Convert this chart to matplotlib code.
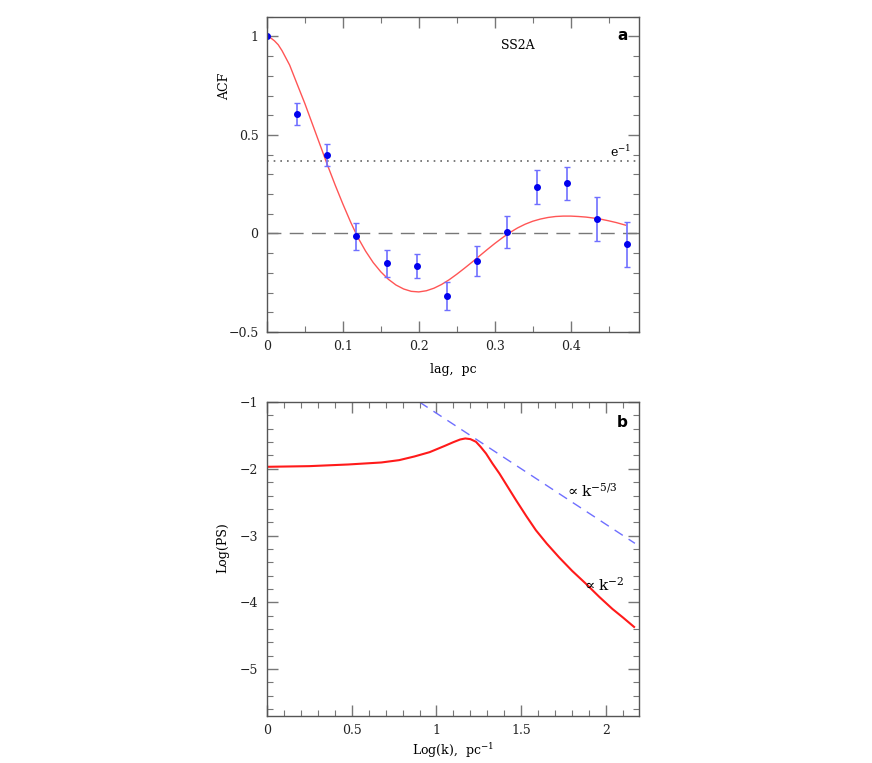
import matplotlib
matplotlib.use("Agg")
import matplotlib.pyplot as plt
from matplotlib.ticker import MultipleLocator, FixedLocator

# ---------------- data: panel a ----------------
lag = [0.0, 0.0395, 0.079, 0.118, 0.158, 0.197, 0.237, 0.276, 0.316, 0.355, 0.395, 0.434, 0.474]
acf = [1.0, 0.605, 0.398, -0.015, -0.152, -0.164, -0.320, -0.140, 0.007, 0.235, 0.254, 0.074, -0.056]
acf_err = [0.0, 0.055, 0.057, 0.070, 0.070, 0.061, 0.071, 0.076, 0.080, 0.085, 0.085, 0.113, 0.114]

fit_lag = [0.0, 0.005, 0.01, 0.015, 0.02, 0.03, 0.04, 0.05, 0.06, 0.07, 0.08, 0.09, 0.10, 0.11, 0.12,
           0.13, 0.14, 0.15, 0.16, 0.17, 0.18, 0.19, 0.20, 0.21, 0.22, 0.23, 0.24, 0.25, 0.26,
           0.27, 0.28, 0.29, 0.30, 0.31, 0.32, 0.33, 0.34, 0.35, 0.36, 0.37, 0.38, 0.39, 0.40,
           0.41, 0.42, 0.43, 0.44, 0.45, 0.46, 0.472]
fit_acf = [1.0, 0.993, 0.978, 0.958, 0.928, 0.855, 0.757, 0.66, 0.555, 0.45, 0.345, 0.245,
           0.15, 0.06, -0.022, -0.09, -0.148, -0.195, -0.233, -0.262, -0.282, -0.294, -0.297,
           -0.291, -0.278, -0.259, -0.235, -0.207, -0.177, -0.146, -0.114, -0.082, -0.051,
           -0.022, 0.005, 0.028, 0.047, 0.062, 0.073, 0.081, 0.086, 0.088, 0.088, 0.086,
           0.083, 0.078, 0.072, 0.064, 0.055, 0.042]

e_inv = 0.368

# ---------------- data: panel b ----------------
logk = [0.0, 0.25, 0.48, 0.675, 0.78, 0.87, 0.96, 1.05, 1.10, 1.14, 1.17, 1.20, 1.233,
        1.26, 1.292, 1.33, 1.371, 1.42, 1.469, 1.53, 1.586, 1.65, 1.724, 1.80, 1.88, 1.96,
        2.037, 2.10, 2.165]
logps = [-1.97, -1.96, -1.935, -1.905, -1.87, -1.815, -1.75, -1.655, -1.60, -1.56, -1.545,
         -1.555, -1.595, -1.67, -1.77, -1.92, -2.07, -2.27, -2.47, -2.71, -2.92, -3.12,
         -3.33, -3.53, -3.72, -3.92, -4.10, -4.23, -4.37]

kol_x = [0.9, 2.17]
kol_y = [-1.0, -3.117]

# ---------------- figure ----------------
plt.rcParams['font.family'] = ['DejaVu Serif']
plt.rcParams['font.size'] = 9
plt.rcParams['mathtext.fontset'] = 'dejavuserif'

fig = plt.figure(figsize=(8.72, 7.63), dpi=100)
axa = fig.add_axes([0.306, 0.565, 0.427, 0.413])
axb = fig.add_axes([0.306, 0.0616, 0.427, 0.4114])

frame_col = '#555555'
tick_col = '#777777'

def style(ax):
    for s in ax.spines.values():
        s.set_color(frame_col)
        s.set_linewidth(1.0)
    ax.tick_params(which='both', direction='in', top=True, right=True,
                   color=tick_col, labelcolor='#222222')
    ax.tick_params(which='major', length=8, width=1.0, pad=6)
    ax.tick_params(which='minor', length=4, width=0.8)

# panel a
axa.axhline(0, color='#777777', lw=1.0, dashes=(10, 6))
axa.axhline(e_inv, color='#666666', lw=1.2, dashes=(1, 3))
axa.plot(fit_lag, fit_acf, color='#ff5555', lw=1.0)
axa.errorbar(lag, acf, yerr=acf_err, fmt='o', color='#0000ee', ms=4,
             ecolor='#6f6fff', elinewidth=1.2, capsize=2.5, capthick=1.0)
axa.set_xlim(0, 0.49)
axa.set_ylim(-0.5, 1.1)
axa.xaxis.set_major_locator(FixedLocator([0, 0.1, 0.2, 0.3, 0.4]))
axa.xaxis.set_minor_locator(MultipleLocator(0.05))
axa.yaxis.set_major_locator(FixedLocator([-0.5, 0, 0.5, 1]))
axa.yaxis.set_minor_locator(MultipleLocator(0.1))
axa.set_xticklabels(['0', '0.1', '0.2', '0.3', '0.4'])
axa.set_yticklabels(['\u22120.5', '0', '0.5', '1'])
style(axa)
axa.set_xlabel('lag,  pc', labelpad=7)
axa.set_ylabel('ACF')
axa.yaxis.set_label_coords(-0.095, 0.78)
axa.text(0.675, 0.908, 'SS2A', transform=axa.transAxes, ha='center', va='center')
axa.text(0.95, 0.571, r'e$^{-1}$', transform=axa.transAxes, ha='center', va='center')
axa.text(0.955, 0.94, 'a', transform=axa.transAxes, ha='center', va='center',
         family='DejaVu Sans', fontweight='bold', fontsize=11)

# panel b
axb.plot(kol_x, kol_y, color='#6f6fff', lw=1.0, dashes=(7, 5))
axb.plot(logk, logps, color='#ff1a1a', lw=1.5)
axb.set_xlim(0, 2.195)
axb.set_ylim(-5.705, -1.0)
axb.xaxis.set_major_locator(FixedLocator([0, 0.5, 1, 1.5, 2]))
axb.xaxis.set_minor_locator(MultipleLocator(0.1))
axb.yaxis.set_major_locator(FixedLocator([-5, -4, -3, -2, -1]))
axb.yaxis.set_minor_locator(MultipleLocator(0.2))
axb.set_xticklabels(['0', '0.5', '1', '1.5', '2'])
axb.set_yticklabels(['\u22125', '\u22124', '\u22123', '\u22122', '\u22121'])
style(axb)
axb.set_xlabel(r'Log(k),  pc$^{-1}$', labelpad=3)
axb.set_ylabel('Log(PS)')
axb.yaxis.set_label_coords(-0.1, 0.535)
axb.text(1.755, -2.33, r'$\propto$k$^{-5/3}$', ha='left', va='center', fontsize=11)
axb.text(1.86, -3.74, r'$\propto$k$^{-2}$', ha='left', va='center', fontsize=11)
axb.text(0.955, 0.935, 'b', transform=axb.transAxes, ha='center', va='center',
         family='DejaVu Sans', fontweight='bold', fontsize=11)

fig.savefig('out.png', dpi=100)
